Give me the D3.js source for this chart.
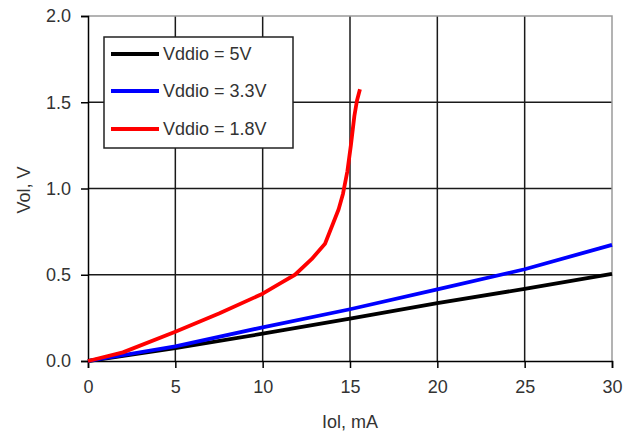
<html>
<head>
<style>
  body { margin: 0; background: #fff; }
  text { font-family: "Liberation Sans", Arial, sans-serif; fill: #333; }
</style>
</head>
<body>
<svg id="chart" width="638" height="439"></svg>
<script src="https://d3js.org/d3.v7.min.js"></script>
<script>
// values: [Iol mA, Vol V]
const vdd5 = [[0,0],[5,0.075],[10,0.158],[15,0.245],[20,0.335],[25,0.418],[30,0.505]]
const vdd33 = [[0,0],[5,0.085],[10,0.195],[15,0.30],[20,0.415],[25,0.532],[30,0.673]]
const vdd18 = [[0,0],[2,0.05],[5,0.17],[7.5,0.275],[10,0.39],[11,0.45],[11.85,0.5],[12.8,0.59],
               [13.57,0.68],[14.04,0.8],[14.35,0.88],[14.6,0.97],[14.85,1.1],[15.05,1.25],
               [15.25,1.42],[15.4,1.51],[15.57,1.575]]
const seriesNames = ["Vddio = 5V", "Vddio = 3.3V", "Vddio = 1.8V"]
const seriesColors = ["#000000", "#0000ff", "#ff0000"]
const xTicks = [0, 5, 10, 15, 20, 25, 30]
const yTicks = [0, 0.5, 1.0, 1.5, 2.0]

const svg = d3.select("#chart")
const plotLeft = 88, plotRight = 612, plotTop = 16, plotBottom = 361

const x = d3.scaleLinear().domain([0, 30]).range([plotLeft, plotRight])
const y = d3.scaleLinear().domain([0, 2]).range([plotBottom, plotTop])

// grid
svg.append("g").selectAll("line").data(xTicks.slice(1, -1)).join("line")
   .attr("x1", d => x(d)).attr("x2", d => x(d))
   .attr("y1", plotTop).attr("y2", plotBottom)
   .attr("stroke", "#1a1a1a").attr("stroke-width", 1.5)
svg.append("g").selectAll("line").data(yTicks.slice(1, -1)).join("line")
   .attr("x1", plotLeft).attr("x2", plotRight)
   .attr("y1", d => y(d)).attr("y2", d => y(d))
   .attr("stroke", "#1a1a1a").attr("stroke-width", 1.5)

// top and right border, grey
svg.append("path")
   .attr("d", `M${plotLeft},${plotTop}H${plotRight}V${plotBottom}`)
   .attr("fill", "none").attr("stroke", "#9a9a9a").attr("stroke-width", 1.5)

// axes
let xAxis = d3.axisBottom(x).tickValues(xTicks).tickSize(7).tickPadding(12).tickFormat(d3.format("d"))
svg.append("g").attr("transform", `translate(0,${plotBottom})`).call(xAxis)
let yAxis = d3.axisLeft(y).tickValues(yTicks).tickSize(7).tickPadding(10).tickFormat(d3.format(".1f"))
svg.append("g").attr("transform", `translate(${plotLeft},0)`).call(yAxis)

svg.selectAll(".domain").attr("stroke", "#000").attr("stroke-width", 1.5)
svg.selectAll(".tick line").attr("stroke", "#000").attr("stroke-width", 1.5)
svg.selectAll(".tick text").style("font-size", "18px").attr("fill", "#3a3a3a")
   .style("font-family", "'Liberation Sans', Arial, sans-serif")

// axis titles
svg.append("text").attr("x", 350).attr("y", 428).attr("text-anchor", "middle")
   .style("font-size", "18px").text("Iol, mA")
svg.append("text").attr("transform", "translate(30,190) rotate(-90)").attr("text-anchor", "middle")
   .style("font-size", "18px").text("Vol, V")

// curves
const line = d3.line().x(d => x(d[0])).y(d => y(d[1]))
const allSeries = [vdd5, vdd33, vdd18]
svg.append("g").selectAll("path").data(allSeries).join("path")
   .attr("d", line)
   .attr("fill", "none")
   .attr("stroke", (d, i) => seriesColors[i])
   .attr("stroke-width", 3.8)
   .attr("stroke-linejoin", "round")

// legend
const legend = svg.append("g")
legend.append("rect").attr("x", 104).attr("y", 37).attr("width", 189).attr("height", 111)
      .attr("fill", "#fff").attr("stroke", "#222").attr("stroke-width", 1.5)
const rowY = [54, 91, 129]
let rows = legend.selectAll("g.row").data(seriesNames).join("g").attr("class", "row")
rows.append("line").attr("x1", 111).attr("x2", 159)
    .attr("y1", (d, i) => rowY[i]).attr("y2", (d, i) => rowY[i])
    .attr("stroke", (d, i) => seriesColors[i]).attr("stroke-width", 4)
rows.append("text").attr("x", 163).attr("y", (d, i) => rowY[i] + 6)
    .style("font-size", "18px").text(d => d)
</script>
</body>
</html>
